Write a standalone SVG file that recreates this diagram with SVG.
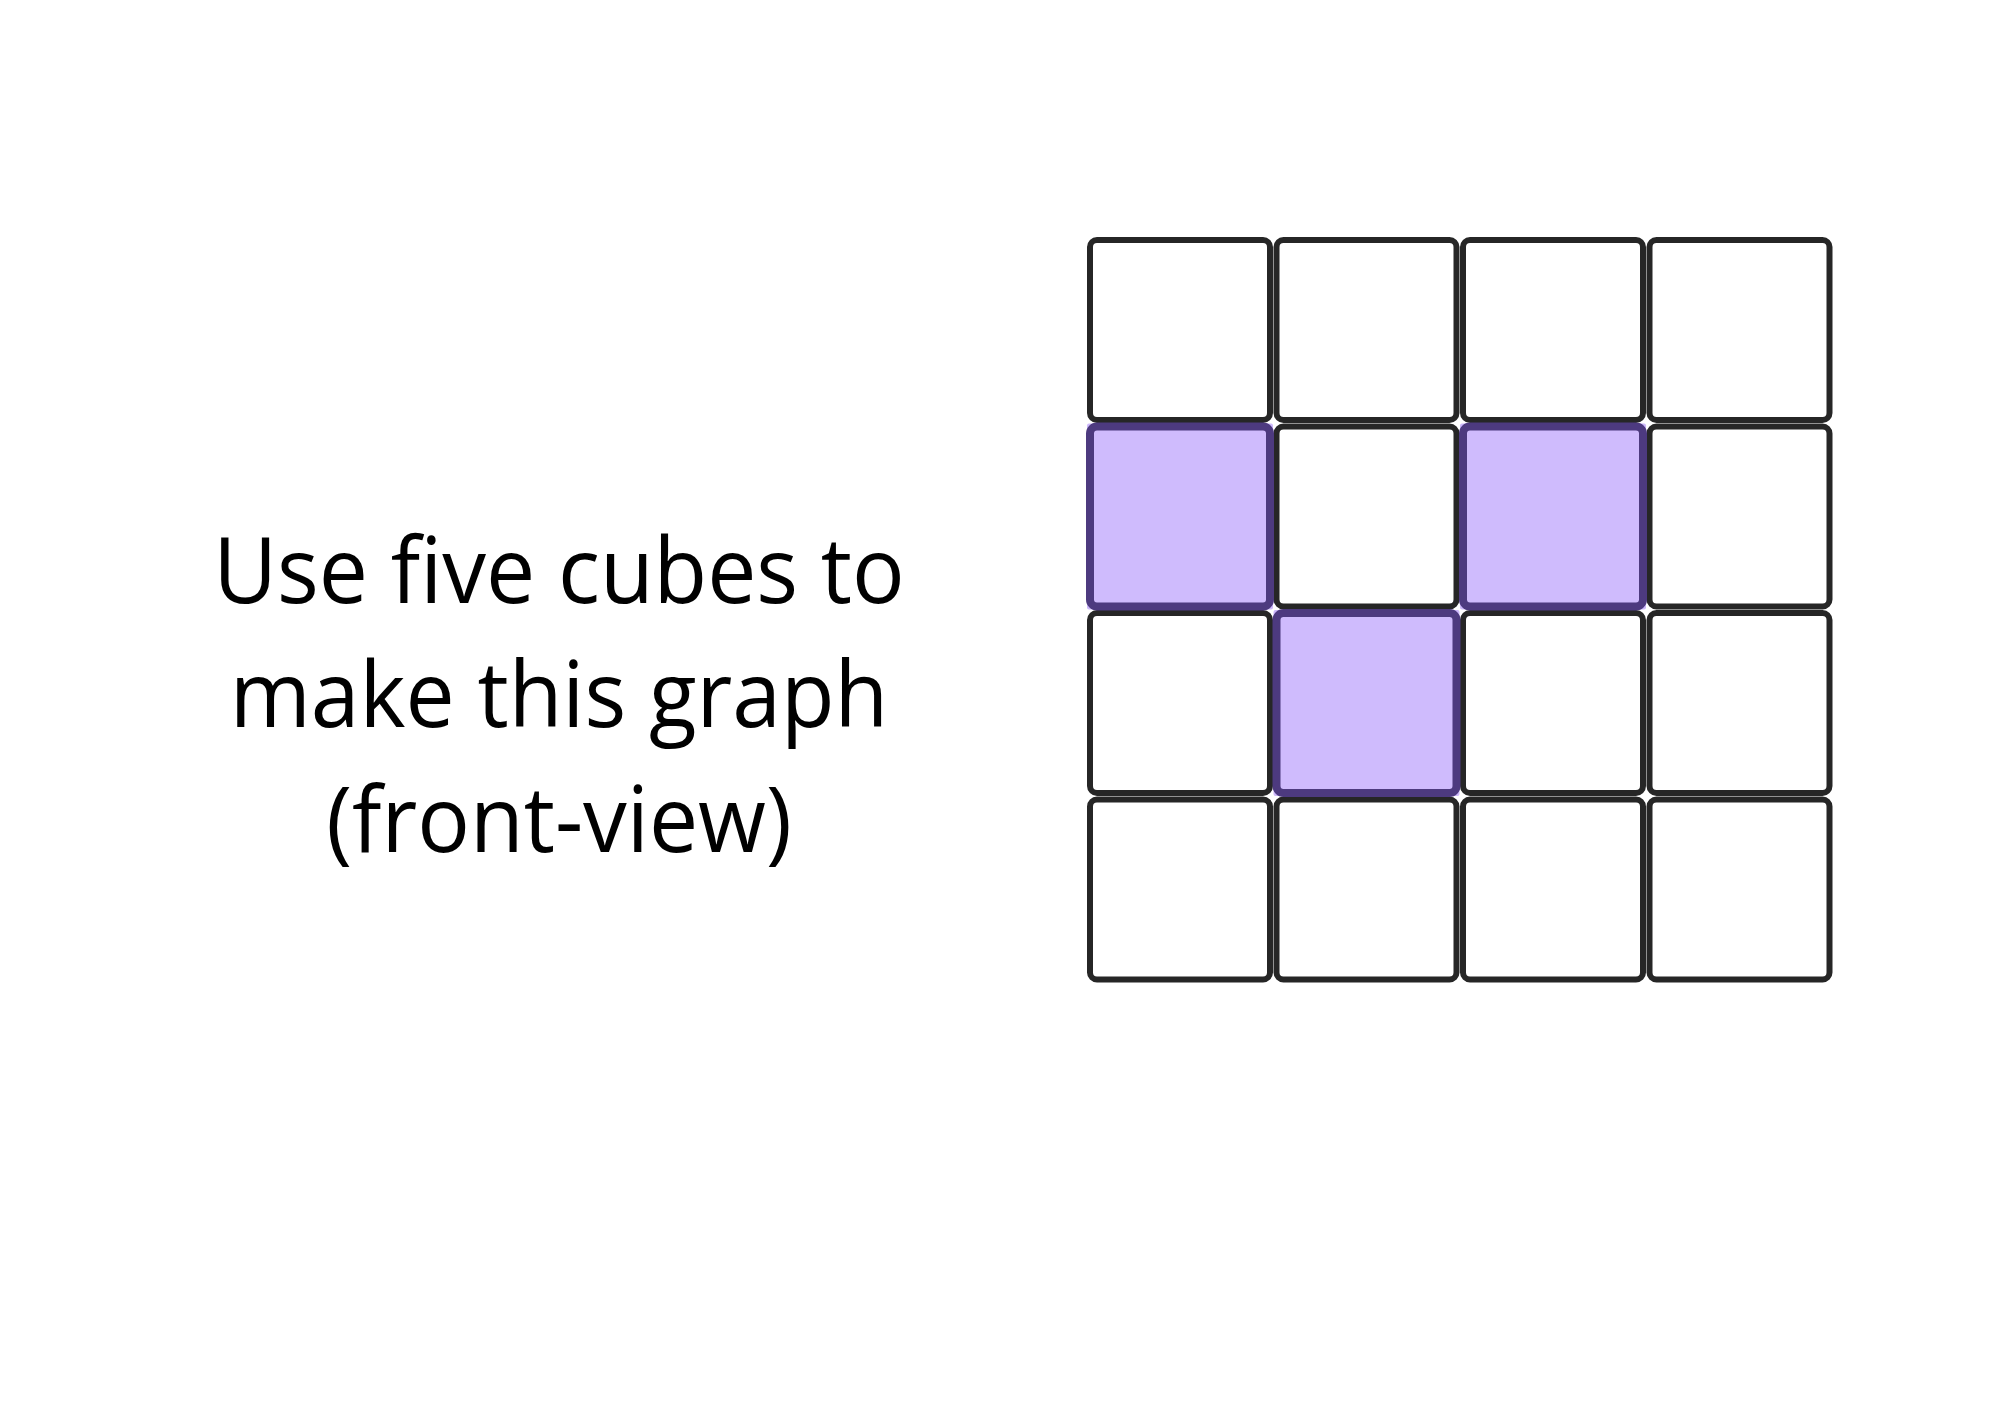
<svg xmlns="http://www.w3.org/2000/svg" width="2000" height="1428" viewBox="0 0 2000 1428">
<style>
.cell{fill:#ffffff;stroke:#262626;stroke-width:6}
.tint{fill:#cdb8fb;stroke:none}
.pcell{fill:#cfbbfd;stroke:#4d3a7f;stroke-width:8}
.lbl{font-family:"Open Sans","Noto Sans",sans-serif;font-size:92px;fill:#000000;text-anchor:middle}
</style>
<rect x="0" y="0" width="2000" height="1428" fill="#ffffff"/>
<g id="label" transform="translate(559,0) scale(0.952,1) translate(-559,0)">
<text class="lbl" x="559" y="603">Use five cubes to</text>
<text class="lbl" x="559" y="727">make this graph</text>
<text class="lbl" x="559" y="852">(front-view)</text>
</g>
<g id="grid">
<g id="r0c0"><rect class="cell" x="1090" y="240" width="180" height="180" rx="7"/></g>
<g id="r0c1"><rect class="cell" x="1276.5" y="240" width="180" height="180" rx="7"/></g>
<g id="r0c2"><rect class="cell" x="1463" y="240" width="180" height="180" rx="7"/></g>
<g id="r0c3"><rect class="cell" x="1649.5" y="240" width="180" height="180" rx="7"/></g>
<g id="r1c0"><rect class="cell" x="1090" y="426.5" width="180" height="180" rx="7"/></g>
<g id="r1c1"><rect class="cell" x="1276.5" y="426.5" width="180" height="180" rx="7"/></g>
<g id="r1c2"><rect class="cell" x="1463" y="426.5" width="180" height="180" rx="7"/></g>
<g id="r1c3"><rect class="cell" x="1649.5" y="426.5" width="180" height="180" rx="7"/></g>
<g id="r2c0"><rect class="cell" x="1090" y="613" width="180" height="180" rx="7"/></g>
<g id="r2c1"><rect class="cell" x="1276.5" y="613" width="180" height="180" rx="7"/></g>
<g id="r2c2"><rect class="cell" x="1463" y="613" width="180" height="180" rx="7"/></g>
<g id="r2c3"><rect class="cell" x="1649.5" y="613" width="180" height="180" rx="7"/></g>
<g id="r3c0"><rect class="cell" x="1090" y="799.5" width="180" height="180" rx="7"/></g>
<g id="r3c1"><rect class="cell" x="1276.5" y="799.5" width="180" height="180" rx="7"/></g>
<g id="r3c2"><rect class="cell" x="1463" y="799.5" width="180" height="180" rx="7"/></g>
<g id="r3c3"><rect class="cell" x="1649.5" y="799.5" width="180" height="180" rx="7"/></g>
</g>
<g id="cubes">
<g id="cube1"><rect class="tint" x="1087" y="423.5" width="186" height="186" rx="2"/><rect class="pcell" x="1090" y="426.5" width="180" height="180" rx="7"/></g>
<g id="cube2"><rect class="tint" x="1460" y="423.5" width="186" height="186" rx="2"/><rect class="pcell" x="1463" y="426.5" width="180" height="180" rx="7"/></g>
<g id="cube3"><rect class="tint" x="1273.5" y="610" width="186" height="186" rx="2"/><rect class="pcell" x="1276.5" y="613" width="180" height="180" rx="7"/></g>
</g>
</svg>
